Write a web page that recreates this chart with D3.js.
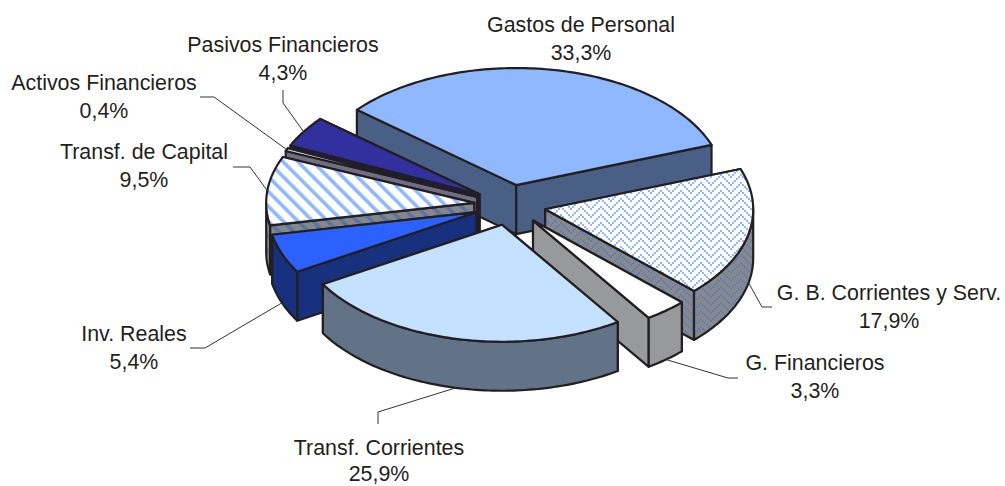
<!DOCTYPE html>
<html>
<head>
<meta charset="utf-8">
<script src="https://cdn.jsdelivr.net/npm/d3@7"></script>
<style>
  html, body { margin: 0; padding: 0; background: #fff; }
  svg { display: block; }
  text { font-family: "Liberation Sans", Arial, sans-serif; font-size: 21.4px; fill: #231f20; }
</style>
</head>
<body>
<div id="chart"></div>
<script>
// datos del gráfico
const categories = ["Gastos de Personal", "G. B. Corrientes y Serv.", "G. Financieros", "Transf. Corrientes",
  "Inv. Reales", "Transf. de Capital", "Activos Financieros", "Pasivos Financieros"];
const shares = [33.3, 17.9, 3.3, 25.9, 5.4, 9.5, 0.4, 4.3];
const shareLabels = ["33,3%", "17,9%", "3,3%", "25,9%", "5,4%", "9,5%", "0,4%", "4,3%"];

// colores: tapa y pared
const topFills = ["#8fb8ff", "url(#weaveTop)", "#ffffff", "#c4e1ff", "#2b62ff", "url(#stripeTop)", "#e8e8f4", "#32309f"];
const wallFills = ["#4a5f85", "url(#weaveWall)", "#98999b", "#627388", "#17317f", "url(#stripeWall)", "#6f6e85", "#1c1b66"];

// colocación de etiquetas y codos de las guías
const labelX = [581, 889, 815, 379, 134, 144, 104, 283];
const labelY = [32, 300, 370, 455, 341, 159, 90, 52];
const shareY = [60, 328, 398, 481, 369, 187, 118, 80];
const elbows = [null, [[762, 307], [772, 307]], [[728, 378], [738, 378]], [[378, 412], [378, 424]],
  [[205, 348], [190, 348]], [[250, 167], [233, 167]], [[214, 97], [200, 97]], [[283, 103], [283, 90]]];

const width = 1005, height = 486;
const cx = 510, cy = 205, rx = 208, ry = 117, explode = 36, depth = 49;

const svg = d3.select("#chart").append("svg").attr("width", width).attr("height", height);

// tramas
const defs = svg.append("defs");
function stripes(id, bg, fg) {
  const p = defs.append("pattern").attr("id", id).attr("patternUnits", "userSpaceOnUse")
    .attr("width", 10.5).attr("height", 10.5).attr("patternTransform", "rotate(-45)");
  p.append("rect").attr("width", 10.5).attr("height", 10.5).attr("fill", bg);
  p.append("rect").attr("width", 3.6).attr("height", 10.5).attr("fill", fg);
}
stripes("stripeTop", "#ffffff", "#8fb8ff");
stripes("stripeWall", "#85878a", "#5a74a4");

// trama en zigzag, celdas de 2px
function weave(id, bg, fg) {
  const p = defs.append("pattern").attr("id", id).attr("patternUnits", "userSpaceOnUse")
    .attr("width", 20).attr("height", 16);
  p.append("rect").attr("width", 20).attr("height", 16).attr("fill", bg);
  d3.range(8).forEach(r => d3.range(10).forEach(c => {
    if ((r + Math.abs(c - 5)) % 4 === 0) {
      p.append("rect").attr("x", c * 2).attr("y", r * 2).attr("width", 2).attr("height", 2).attr("fill", fg);
    }
  }));
}
weave("weaveTop", "#ffffff", "#8fb8ff");
weave("weaveWall", "#88898b", "#5f7fbc");

// proyección del círculo a la elipse
const sx = d3.scaleLinear().domain([-1, 1]).range([-rx, rx]);
const sy = d3.scaleLinear().domain([-1, 1]).range([-ry, ry]);
const line = d3.line();

const pie = d3.pie().sort(null).startAngle(-50 * Math.PI / 180).endAngle(310 * Math.PI / 180);
const slices = pie(shares).map((d, i) => {
  const mid = (d.startAngle + d.endAngle) / 2;
  return {
    i, mid, a0: d.startAngle, a1: d.endAngle,
    ox: cx + explode * Math.sin(mid),
    oy: cy - explode * (ry / rx) * Math.cos(mid)
  };
});

const rim = (s, a) => [s.ox + sx(Math.sin(a)), s.oy - sy(Math.cos(a))];
const down = p => [p[0], p[1] + depth];

function arcPoints(s, a0, a1) {
  const n = Math.max(2, Math.ceil((a1 - a0) / 0.02));
  return d3.range(n + 1).map(k => rim(s, a0 + (a1 - a0) * k / n));
}

// de atrás hacia delante
const paintOrder = [0, 7, 6, 5, 4, 1, 2, 3];
const stroke = "#231f20", strokeW = 2.2;

paintOrder.forEach(idx => {
  const s = slices[idx];
  const g = svg.append("g").attr("stroke", stroke).attr("stroke-width", strokeW).attr("stroke-linejoin", "round");
  const apex = [s.ox, s.oy];

  // paredes radiales, la más lejana primero
  [s.a0, s.a1].sort((a, b) => Math.cos(b) - Math.cos(a)).forEach(a => {
    const p = rim(s, a);
    g.append("path").attr("fill", wallFills[idx])
      .attr("d", line([apex, p, down(p), down(apex)]) + "Z");
  });

  // pared exterior, sólo la parte frontal
  const from = Math.max(s.a0, Math.PI / 2), to = Math.min(s.a1, 3 * Math.PI / 2);
  if (to > from) {
    const pts = arcPoints(s, from, to);
    g.append("path").attr("fill", wallFills[idx])
      .attr("d", line(pts.concat(pts.slice().reverse().map(down))) + "Z");
  }

  // tapa
  g.append("path").attr("fill", topFills[idx])
    .attr("d", line([apex].concat(arcPoints(s, s.a0, s.a1))) + "Z");
});

// guías
slices.forEach(s => {
  if (!elbows[s.i]) return;
  const x0 = cx + (explode + rx) * Math.sin(s.mid);
  let y0 = cy - (explode * ry / rx + ry) * Math.cos(s.mid);
  if (Math.cos(s.mid) < -0.1) y0 += depth;
  svg.append("path").attr("fill", "none").attr("stroke", "#333").attr("stroke-width", 1)
    .attr("d", line([[x0, y0]].concat(elbows[s.i])));
});

// etiquetas
categories.forEach((c, i) => {
  svg.append("text").attr("x", labelX[i]).attr("y", labelY[i]).attr("text-anchor", "middle").text(c);
  svg.append("text").attr("x", labelX[i]).attr("y", shareY[i]).attr("text-anchor", "middle").text(shareLabels[i]);
});
</script>
</body>
</html>
